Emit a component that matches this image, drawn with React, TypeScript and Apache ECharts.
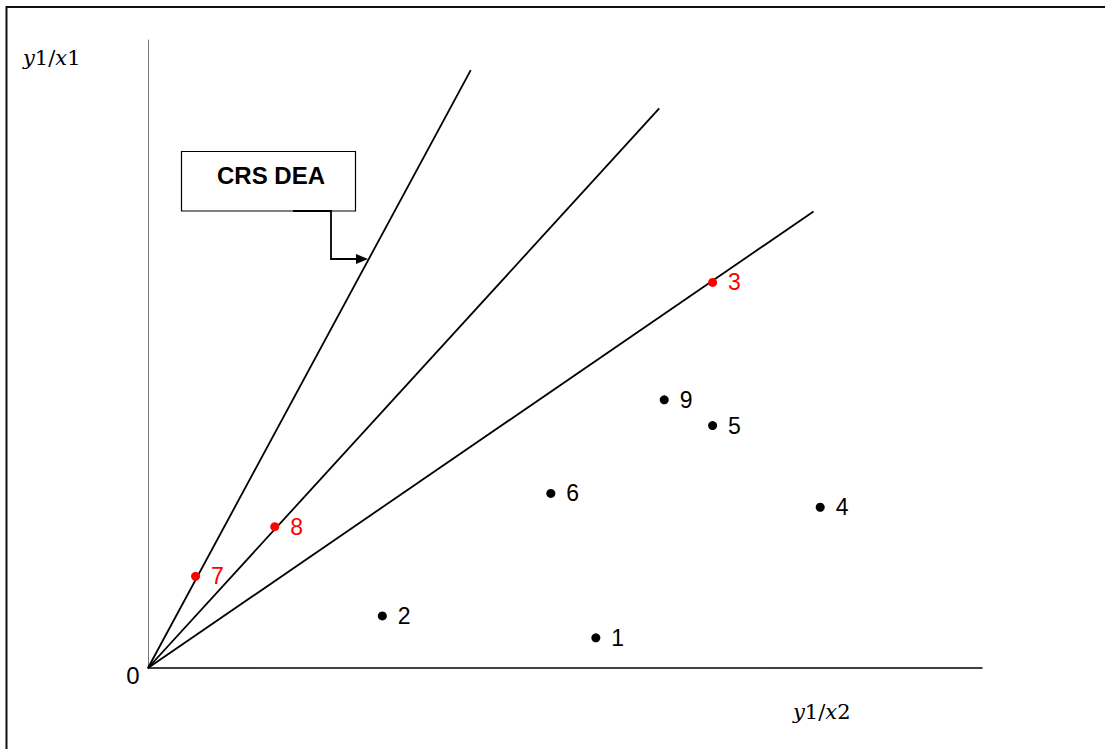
import React, { useEffect, useRef } from "react";
import * as echarts from "echarts";

// DMU points: [x = y1/x2, y = y1/x1]
const dmuNames = ["1", "2", "3", "4", "5", "6", "7", "8", "9"];
const dmuX = [5.37, 2.81, 6.77, 8.06, 6.77, 4.83, 0.57, 1.52, 6.19];
const dmuY = [0.48, 0.83, 6.14, 2.56, 3.86, 2.78, 1.46, 2.25, 4.27];
const efficient = ["3", "7", "8"];

// Rays from origin (end points)
const rayEndX = [3.87, 6.13, 7.98];
const rayEndY = [9.52, 8.91, 7.27];

const xMax = 10;
const yMax = 10;

export default function App() {
  const ref = useRef<HTMLDivElement>(null);
  useEffect(() => {
    if (!ref.current) return;
    const chart = echarts.init(ref.current, null, { renderer: "svg" });
    const sans = "Liberation Sans";
    const serif = "DejaVu Serif";

    const raySeries = rayEndX.map((x, i) => ({
      type: "line",
      data: [
        [0, 0],
        [x, rayEndY[i]],
      ],
      symbol: "none",
      lineStyle: { color: "#000", width: 1.8 },
      silent: true,
      z: 2,
    }));

    const points = dmuNames.map((n, i) => {
      const red = efficient.includes(n);
      return {
        value: [dmuX[i], dmuY[i]],
        name: n,
        itemStyle: { color: red ? "#ff0000" : "#000000", opacity: 1 },
        label: { color: red ? "#ff0000" : "#000000" },
      };
    });

    const mathRich = {
      i: { fontFamily: serif, fontStyle: "italic", fontSize: 21, color: "#000" },
      n: { fontFamily: serif, fontSize: 21, color: "#000" },
    };

    chart.setOption({
      animation: false,
      backgroundColor: "#fff",
      grid: { left: 148, top: 40, width: 834, height: 628, containLabel: false },
      xAxis: {
        type: "value",
        min: 0,
        max: xMax,
        axisLine: { show: true, onZero: false, lineStyle: { color: "#000", width: 1.5 } },
        axisTick: { show: false },
        axisLabel: { show: false },
        splitLine: { show: false },
      },
      yAxis: {
        type: "value",
        min: 0,
        max: yMax,
        axisLine: { show: true, onZero: false, lineStyle: { color: "#777", width: 1 } },
        axisTick: { show: false },
        axisLabel: { show: false },
        splitLine: { show: false },
      },
      series: [
        ...raySeries,
        {
          type: "scatter",
          data: points,
          symbol: "circle",
          symbolSize: 9,
          itemStyle: { opacity: 1 },
          z: 3,
          label: {
            show: true,
            position: "right",
            distance: 11,
            formatter: (p: any) => p.name,
            fontFamily: sans,
            fontSize: 23,
            color: "#000",
          },
        },
      ],
      graphic: [
        {
          type: "rect",
          shape: { x: 6.5, y: 7, width: 1200, height: 800 },
          style: { fill: "none", stroke: "#111", lineWidth: 2 },
          silent: true,
          z: 0,
        },
        {
          type: "text",
          x: 23,
          y: 58,
          style: {
            text: "{i|y}{n|1/}{i|x}{n|1}",
            rich: mathRich,
            verticalAlign: "middle",
          },
        },
        {
          type: "text",
          x: 793,
          y: 712,
          style: {
            text: "{i|y}{n|1/}{i|x}{n|2}",
            rich: mathRich,
            verticalAlign: "middle",
          },
        },
        {
          type: "text",
          x: 133,
          y: 675,
          style: {
            text: "0",
            fontFamily: sans,
            fontSize: 24,
            fill: "#000",
            align: "center",
            verticalAlign: "middle",
          },
        },
        {
          type: "rect",
          shape: { x: 181.5, y: 151.5, width: 174, height: 59.5 },
          style: { fill: "#fff", stroke: "#000", lineWidth: 1.2 },
          z: 5,
        },
        {
          type: "text",
          x: 271,
          y: 175,
          z: 6,
          style: {
            text: "CRS DEA",
            fontFamily: sans,
            fontWeight: "bold",
            fontSize: 24,
            fill: "#000",
            align: "center",
            verticalAlign: "middle",
          },
        },
        {
          type: "polyline",
          z: 6,
          shape: {
            points: [
              [293, 211],
              [331, 211],
              [331, 259],
              [358, 259],
            ],
          },
          style: { fill: "none", stroke: "#000", lineWidth: 1.8 },
        },
        {
          type: "polygon",
          z: 6,
          shape: {
            points: [
              [356, 254],
              [368, 259],
              [356, 264],
            ],
          },
          style: { fill: "#000", stroke: "none" },
        },
      ],
    });
    return () => chart.dispose();
  }, []);
  return (
    <div
      ref={ref}
      style={{ position: "absolute", left: 0, top: 0, width: 1105, height: 749 }}
    />
  );
}
